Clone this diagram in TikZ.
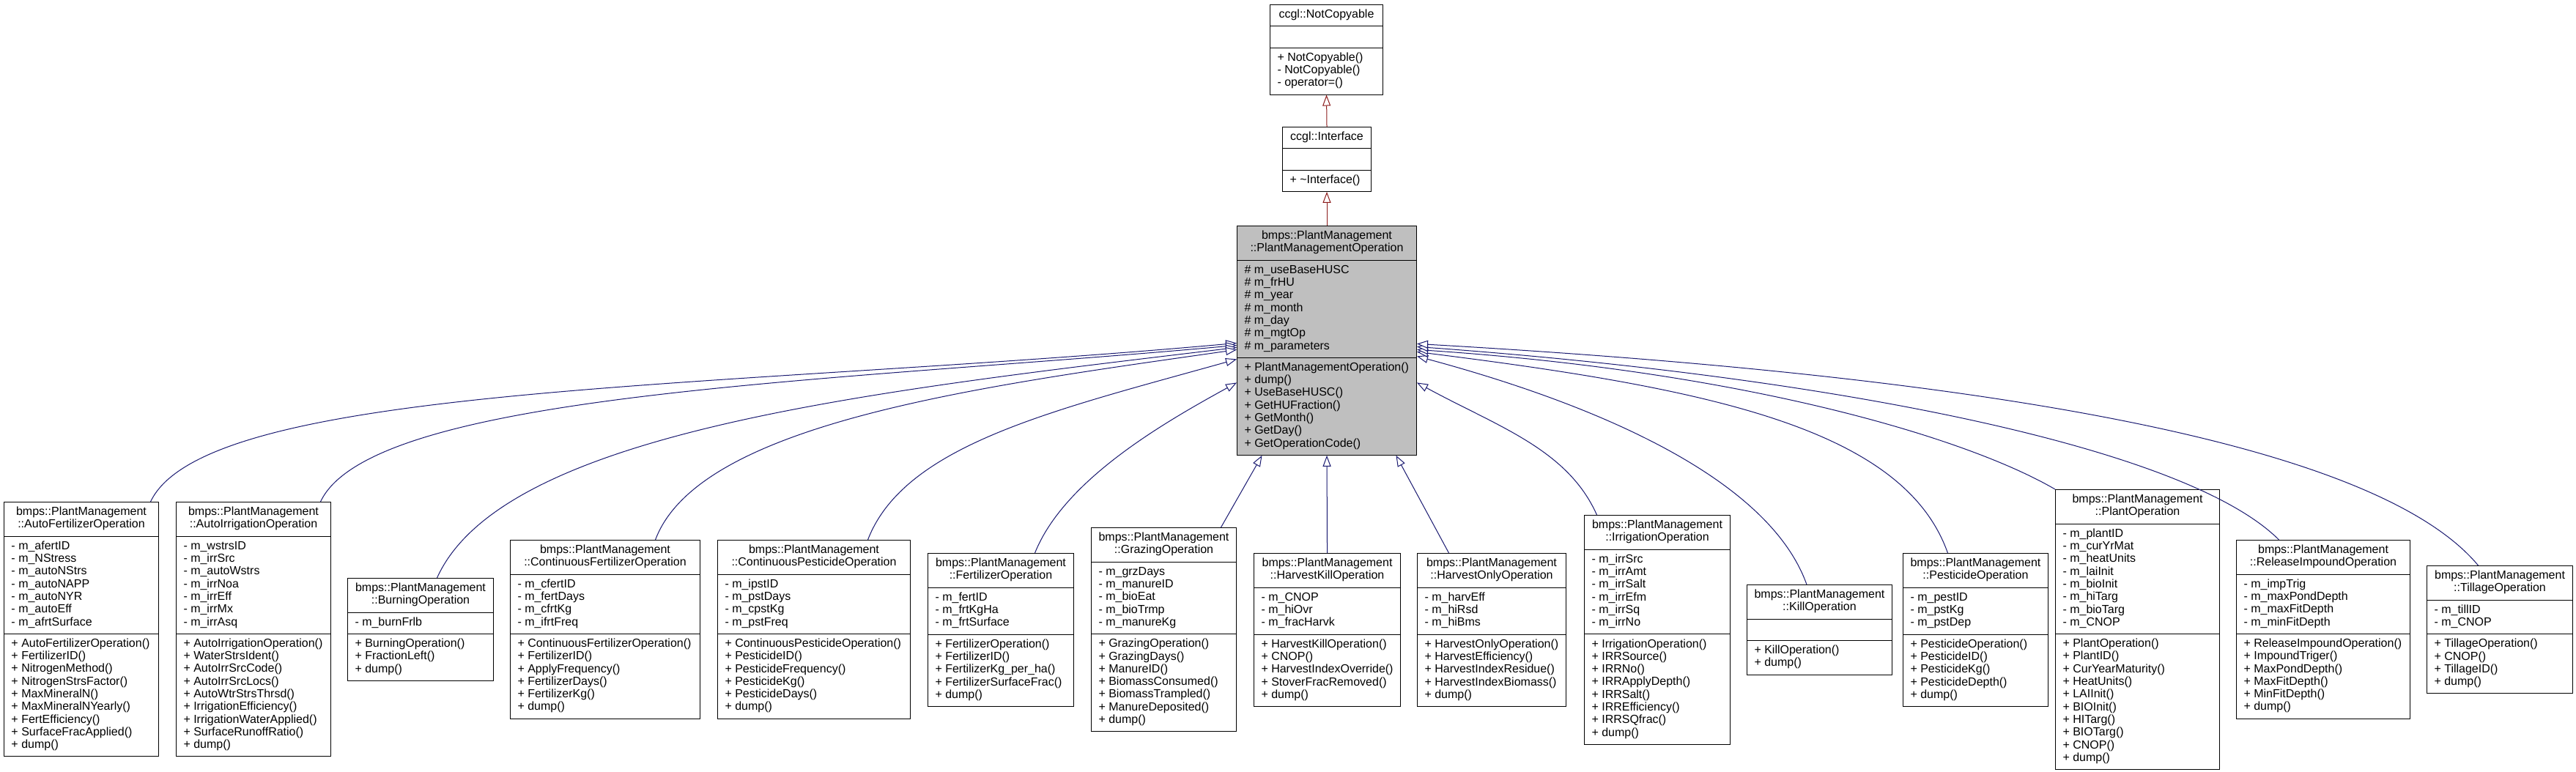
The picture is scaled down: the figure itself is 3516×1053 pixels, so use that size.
\documentclass[tikz,border=0pt]{standalone}
\usepackage{fontspec}
\setmainfont{Liberation Sans}
\usepackage{tikz}
\usepackage{xcolor}
\usetikzlibrary{shapes.multipart,arrows.meta}

\definecolor{pubblue}{HTML}{191970}
\definecolor{privred}{HTML}{8B1A1A}
\definecolor{basegray}{HTML}{BFBFBF}

\newcommand{\clshead}[1]{\begin{tabular}{@{}c@{}}#1\end{tabular}}
\newcommand{\clslist}[1]{\begin{tabular}{@{}l@{}}#1\end{tabular}}

\begin{document}
\begin{tikzpicture}[x=1pt,y=-1pt,
    cls/.style={draw=black, line width=1pt, fill=white, anchor=north west,
        rectangle split, rectangle split parts=3,
        rectangle split part align={center,left,left},
        inner xsep=10pt, inner ysep=5.5pt,
        font=\fontsize{16}{17.3}\selectfont},
    pubedge/.style={draw=pubblue, line width=1pt,
        -{Triangle[length=15pt,width=11pt,fill=white]}},
    privedge/.style={draw=privred, line width=1pt,
        -{Triangle[length=15pt,width=11pt,fill=white]}}]
    \useasboundingbox (0,0) rectangle (3516,1053);

    % Bases
    \node[cls, minimum width=154pt] (notcopy) at (1733,6)
        {\clshead{ccgl::NotCopyable}
        \nodepart{two}\strut
        \nodepart{three}\clslist{+ NotCopyable()\\- NotCopyable()\\- operator=()}};
    \node[cls, minimum width=121pt] (iface) at (1750,173)
        {\clshead{ccgl::Interface}
        \nodepart{two}\strut
        \nodepart{three}\clslist{+ \textasciitilde Interface()}};
    \node[cls, minimum width=245pt, fill=basegray] (base) at (1688,308)
        {\clshead{bmps::PlantManagement\\::PlantManagementOperation}
        \nodepart{two}\clslist{\# m\_useBaseHUSC\\\# m\_frHU\\\# m\_year\\\# m\_month\\\# m\_day\\\# m\_mgtOp\\\# m\_parameters}
        \nodepart{three}\clslist{+ PlantManagementOperation()\\+ dump()\\+ UseBaseHUSC()\\+ GetHUFraction()\\+ GetMonth()\\+ GetDay()\\+ GetOperationCode()}};

    \draw[privedge] (iface.north) -- (notcopy.south);
    \draw[privedge] (base.north) -- (iface.south);

    % Operations
    \node[cls, minimum width=211pt] (afert) at (5,685)
        {\clshead{bmps::PlantManagement\\::AutoFertilizerOperation}
        \nodepart{two}\clslist{- m\_afertID\\- m\_NStress\\- m\_autoNStrs\\- m\_autoNAPP\\- m\_autoNYR\\- m\_autoEff\\- m\_afrtSurface}
        \nodepart{three}\clslist{+ AutoFertilizerOperation()\\+ FertilizerID()\\+ NitrogenMethod()\\+ NitrogenStrsFactor()\\+ MaxMineralN()\\+ MaxMineralNYearly()\\+ FertEfficiency()\\+ SurfaceFracApplied()\\+ dump()}};
    \node[cls, minimum width=211pt] (airr) at (240,685)
        {\clshead{bmps::PlantManagement\\::AutoIrrigationOperation}
        \nodepart{two}\clslist{- m\_wstrsID\\- m\_irrSrc\\- m\_autoWstrs\\- m\_irrNoa\\- m\_irrEff\\- m\_irrMx\\- m\_irrAsq}
        \nodepart{three}\clslist{+ AutoIrrigationOperation()\\+ WaterStrsIdent()\\+ AutoIrrSrcCode()\\+ AutoIrrSrcLocs()\\+ AutoWtrStrsThrsd()\\+ IrrigationEfficiency()\\+ IrrigationWaterApplied()\\+ SurfaceRunoffRatio()\\+ dump()}};
    \node[cls, minimum width=199pt] (burn) at (474,789)
        {\clshead{bmps::PlantManagement\\::BurningOperation}
        \nodepart{two}\clslist{- m\_burnFrlb}
        \nodepart{three}\clslist{+ BurningOperation()\\+ FractionLeft()\\+ dump()}};
    \node[cls, minimum width=259pt] (cfert) at (696,737)
        {\clshead{bmps::PlantManagement\\::ContinuousFertilizerOperation}
        \nodepart{two}\clslist{- m\_cfertID\\- m\_fertDays\\- m\_cfrtKg\\- m\_ifrtFreq}
        \nodepart{three}\clslist{+ ContinuousFertilizerOperation()\\+ FertilizerID()\\+ ApplyFrequency()\\+ FertilizerDays()\\+ FertilizerKg()\\+ dump()}};
    \node[cls, minimum width=263pt] (cpest) at (979,737)
        {\clshead{bmps::PlantManagement\\::ContinuousPesticideOperation}
        \nodepart{two}\clslist{- m\_ipstID\\- m\_pstDays\\- m\_cpstKg\\- m\_pstFreq}
        \nodepart{three}\clslist{+ ContinuousPesticideOperation()\\+ PesticideID()\\+ PesticideFrequency()\\+ PesticideKg()\\+ PesticideDays()\\+ dump()}};
    \node[cls, minimum width=199pt] (fert) at (1266,755)
        {\clshead{bmps::PlantManagement\\::FertilizerOperation}
        \nodepart{two}\clslist{- m\_fertID\\- m\_frtKgHa\\- m\_frtSurface}
        \nodepart{three}\clslist{+ FertilizerOperation()\\+ FertilizerID()\\+ FertilizerKg\_per\_ha()\\+ FertilizerSurfaceFrac()\\+ dump()}};
    \node[cls, minimum width=198pt] (graz) at (1489,720)
        {\clshead{bmps::PlantManagement\\::GrazingOperation}
        \nodepart{two}\clslist{- m\_grzDays\\- m\_manureID\\- m\_bioEat\\- m\_bioTrmp\\- m\_manureKg}
        \nodepart{three}\clslist{+ GrazingOperation()\\+ GrazingDays()\\+ ManureID()\\+ BiomassConsumed()\\+ BiomassTrampled()\\+ ManureDeposited()\\+ dump()}};
    \node[cls, minimum width=200pt] (hkill) at (1711,755)
        {\clshead{bmps::PlantManagement\\::HarvestKillOperation}
        \nodepart{two}\clslist{- m\_CNOP\\- m\_hiOvr\\- m\_fracHarvk}
        \nodepart{three}\clslist{+ HarvestKillOperation()\\+ CNOP()\\+ HarvestIndexOverride()\\+ StoverFracRemoved()\\+ dump()}};
    \node[cls, minimum width=203pt] (honly) at (1934,755)
        {\clshead{bmps::PlantManagement\\::HarvestOnlyOperation}
        \nodepart{two}\clslist{- m\_harvEff\\- m\_hiRsd\\- m\_hiBms}
        \nodepart{three}\clslist{+ HarvestOnlyOperation()\\+ HarvestEfficiency()\\+ HarvestIndexResidue()\\+ HarvestIndexBiomass()\\+ dump()}};
    \node[cls, minimum width=199pt] (irr) at (2162,703)
        {\clshead{bmps::PlantManagement\\::IrrigationOperation}
        \nodepart{two}\clslist{- m\_irrSrc\\- m\_irrAmt\\- m\_irrSalt\\- m\_irrEfm\\- m\_irrSq\\- m\_irrNo}
        \nodepart{three}\clslist{+ IrrigationOperation()\\+ IRRSource()\\+ IRRNo()\\+ IRRApplyDepth()\\+ IRRSalt()\\+ IRREfficiency()\\+ IRRSQfrac()\\+ dump()}};
    \node[cls, minimum width=191pt] (kill) at (2384,798)
        {\clshead{bmps::PlantManagement\\::KillOperation}
        \nodepart{two}\strut
        \nodepart{three}\clslist{+ KillOperation()\\+ dump()}};
    \node[cls, minimum width=186pt] (pest) at (2597,755)
        {\clshead{bmps::PlantManagement\\::PesticideOperation}
        \nodepart{two}\clslist{- m\_pestID\\- m\_pstKg\\- m\_pstDep}
        \nodepart{three}\clslist{+ PesticideOperation()\\+ PesticideID()\\+ PesticideKg()\\+ PesticideDepth()\\+ dump()}};
    \node[cls, minimum width=224pt] (plant) at (2805,668)
        {\clshead{bmps::PlantManagement\\::PlantOperation}
        \nodepart{two}\clslist{- m\_plantID\\- m\_curYrMat\\- m\_heatUnits\\- m\_laiInit\\- m\_bioInit\\- m\_hiTarg\\- m\_bioTarg\\- m\_CNOP}
        \nodepart{three}\clslist{+ PlantOperation()\\+ PlantID()\\+ CurYearMaturity()\\+ HeatUnits()\\+ LAIInit()\\+ BIOInit()\\+ HITarg()\\+ BIOTarg()\\+ CNOP()\\+ dump()}};
    \node[cls, minimum width=237pt] (rimp) at (3052,737)
        {\clshead{bmps::PlantManagement\\::ReleaseImpoundOperation}
        \nodepart{two}\clslist{- m\_impTrig\\- m\_maxPondDepth\\- m\_maxFitDepth\\- m\_minFitDepth}
        \nodepart{three}\clslist{+ ReleaseImpoundOperation()\\+ ImpoundTriger()\\+ MaxPondDepth()\\+ MaxFitDepth()\\+ MinFitDepth()\\+ dump()}};
    \node[cls, minimum width=199pt] (till) at (3312,772)
        {\clshead{bmps::PlantManagement\\::TillageOperation}
        \nodepart{two}\clslist{- m\_tillID\\- m\_CNOP}
        \nodepart{three}\clslist{+ TillageOperation()\\+ CNOP()\\+ TillageID()\\+ dump()}};

    % Inheritance, left side
    \draw[pubedge] ([xshift=94.5pt]afert.north) .. controls +(76,-162) and +(-700,63) .. ([yshift=-3.5pt]base.west);
    \draw[pubedge] ([xshift=91.5pt]airr.north) .. controls +(70,-150) and +(-550,50) .. ([yshift=-6.5pt]base.west);
    \draw[pubedge] ([xshift=22.5pt]burn.north) .. controls +(90,-200) and +(-500,60) .. ([yshift=-9.5pt]base.west);
    \draw[pubedge] ([xshift=68.5pt]cfert.north) .. controls +(60,-160) and +(-350,50) .. ([yshift=-12.5pt]base.west);
    \draw[pubedge] ([xshift=73.5pt]cpest.north) .. controls +(50,-130) and +(-250,70) .. ([yshift=-25.5pt]base.west);
    \draw[pubedge] ([xshift=46.5pt]fert.north) .. controls +(40,-100) and +(-100,55) .. ([yshift=-57.5pt]base.west);

    % Inheritance, bottom
    \draw[pubedge] ([xshift=78pt]graz.north) -- ([xshift=-88.5pt]base.south);
    \draw[pubedge] (hkill.north) -- (base.south);
    \draw[pubedge] ([xshift=-58.5pt]honly.north) -- ([xshift=94.5pt]base.south);

    % Inheritance, right side
    \draw[pubedge] ([xshift=-82.5pt]irr.north) .. controls +(-40,-90) and +(110,60) .. ([yshift=-57.5pt]base.east);
    \draw[pubedge] ([xshift=-17.5pt]kill.north) .. controls +(-50,-140) and +(260,70) .. ([yshift=-21.5pt]base.east);
    \draw[pubedge] ([xshift=-38pt]pest.north) .. controls +(-60,-170) and +(400,50) .. ([yshift=-15.5pt]base.east);
    \draw[pubedge] (plant.north west) .. controls +(-120,-70) and +(450,30) .. ([yshift=-12.5pt]base.east);
    \draw[pubedge] ([xshift=-60.5pt]rimp.north) .. controls +(-130,-130) and +(550,40) .. ([yshift=-8.5pt]base.east);
    \draw[pubedge] ([xshift=-29.5pt]till.north) .. controls +(-150,-180) and +(700,40) .. ([yshift=-4.5pt]base.east);
\end{tikzpicture}
\end{document}
